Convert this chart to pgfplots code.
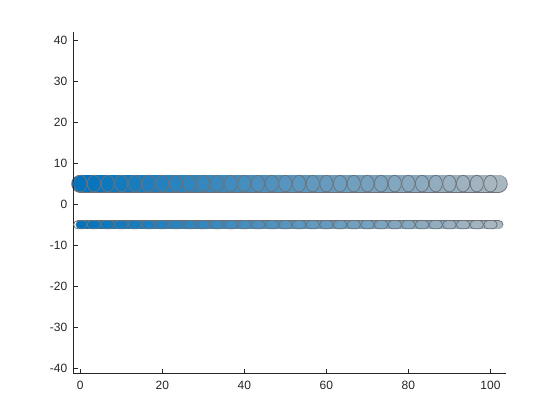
\documentclass[border=0pt]{standalone}
\usepackage{pgfplots}
\pgfplotsset{compat=1.18}
\usepackage{pgfplotstable}
\usepackage{fontspec}
\setmainfont{Liberation Sans}

\definecolor{axgray}{RGB}{38,38,38}
\definecolor{edgegray}{RGB}{108,114,120}
\pgfplotsset{colormap={bluegray}{rgb255=(0,114,189) rgb255=(168,182,192)}}

% upright ellipse outline for the upper row
\pgfdeclareplotmark{ell}{%
  \pgfpathellipse{\pgfpointorigin}{\pgfpoint{6.6bp}{0bp}}{\pgfpoint{0bp}{8.3bp}}%
  \pgfusepathqstroke}
% stadium outline for the lower row
\pgfdeclareplotmark{pill}{%
  \pgfpathmoveto{\pgfpoint{-2.5bp}{-4.2bp}}%
  \pgfpathlineto{\pgfpoint{2.5bp}{-4.2bp}}%
  \pgfpatharc{-90}{90}{4.2bp}%
  \pgfpathlineto{\pgfpoint{-2.5bp}{4.2bp}}%
  \pgfpatharc{90}{270}{4.2bp}%
  \pgfpathclose
  \pgfusepathqstroke}

% marker centres (both rows)
\pgfplotstableread{
x      top  bot
0      5    -5
3.33   5    -5
6.67   5    -5
10     5    -5
13.33  5    -5
16.67  5    -5
20     5    -5
23.33  5    -5
26.67  5    -5
30     5    -5
33.33  5    -5
36.67  5    -5
40     5    -5
43.33  5    -5
46.67  5    -5
50     5    -5
53.33  5    -5
56.67  5    -5
60     5    -5
63.33  5    -5
66.67  5    -5
70     5    -5
73.33  5    -5
76.67  5    -5
80     5    -5
83.33  5    -5
86.67  5    -5
90     5    -5
93.33  5    -5
96.67  5    -5
100    5    -5
}\marks

% filled band behind the markers
\pgfplotstableread{
x      top  bot
0      5    -5
3.33   5    -5
6.67   5    -5
10     5    -5
13.33  5    -5
16.67  5    -5
20     5    -5
23.33  5    -5
26.67  5    -5
30     5    -5
33.33  5    -5
36.67  5    -5
40     5    -5
43.33  5    -5
46.67  5    -5
50     5    -5
53.33  5    -5
56.67  5    -5
60     5    -5
63.33  5    -5
66.67  5    -5
70     5    -5
73.33  5    -5
76.67  5    -5
80     5    -5
83.33  5    -5
86.67  5    -5
90     5    -5
93.33  5    -5
96.67  5    -5
100    5    -5
102    5    -5
}\band

\begin{document}
\begin{tikzpicture}
\path (0,0) rectangle (560bp,420bp);
\begin{axis}[
  at={(73.3bp,46.7bp)}, anchor=south west,
  scale only axis, width=432.7bp, height=341.6bp,
  xmin=-1.71, xmax=103.8, ymin=-41.2, ymax=42.0,
  axis x line*=bottom, axis y line*=left,
  xtick={0,20,...,100}, ytick={-40,-30,...,40},
  tick align=inside, major tick length=4.5bp,
  axis line style={draw=axgray, line width=0.6bp},
  tick style={draw=axgray, line width=0.6bp},
  ticklabel style={font=\fontsize{12bp}{14bp}\selectfont, text=axgray},
  xticklabel style={yshift=-4.5bp},
  yticklabel style={xshift=-2.5bp},
  /pgf/number format/assume math mode=true,
  colormap name=bluegray,
  point meta min=0, point meta max=102,
  clip=false, axis on top,
]
  % top row
  \addplot[draw=edgegray, line width=18.2bp, line cap=round, forget plot]
    table[x=x, y=top] {\band};
  \addplot[mesh, point meta=x, line width=16.6bp, line cap=round]
    table[x=x, y=top] {\band};
  \addplot[only marks, mark=ell,
    mark options={draw=edgegray, line width=0.75bp}]
    table[x=x, y=top] {\marks};

  % bottom row
  \addplot[draw=edgegray, line width=9.6bp, line cap=round, forget plot]
    table[x=x, y=bot] {\band};
  \addplot[mesh, point meta=x, line width=8.0bp, line cap=round]
    table[x=x, y=bot] {\band};
  \addplot[only marks, mark=pill,
    mark options={draw=edgegray, line width=0.75bp}]
    table[x=x, y=bot] {\marks};
\end{axis}
\end{tikzpicture}
\end{document}
